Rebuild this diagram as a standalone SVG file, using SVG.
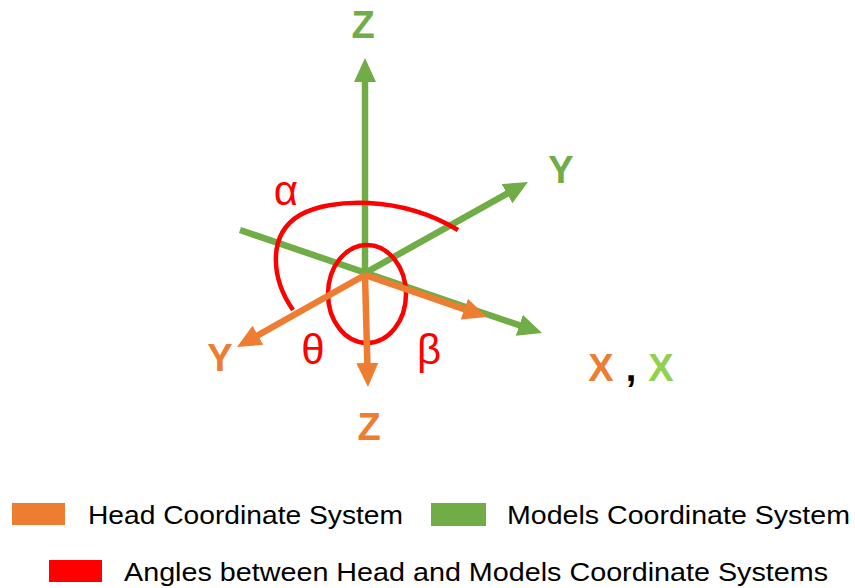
<svg xmlns="http://www.w3.org/2000/svg" width="855" height="588" viewBox="0 0 855 588">
  <style>
    .g { stroke: #70AD47; stroke-width: 6.5; fill: none; }
    .o { stroke: #ED7D31; stroke-width: 6.5; fill: none; }
    .r { stroke: #FF0000; stroke-width: 4.5; fill: none; }
    .axl { font-family: "Liberation Sans", Arial, sans-serif; font-weight: bold; font-size: 38px; text-anchor: middle; }
    .gr { font-family: "Liberation Sans", Arial, sans-serif; font-size: 42px; fill: #FF0000; text-anchor: middle; }
    .leg { font-family: "Liberation Sans", Arial, sans-serif; font-size: 26px; fill: #000000; }
  </style>
  <defs>
    <marker id="ag" markerUnits="userSpaceOnUse" markerWidth="26" markerHeight="24" refX="6" refY="11" orient="auto">
      <path d="M0,0 L24,11 L0,22 z" fill="#70AD47"/>
    </marker>
    <marker id="ao" markerUnits="userSpaceOnUse" markerWidth="26" markerHeight="24" refX="6" refY="11" orient="auto">
      <path d="M0,0 L24,11 L0,22 z" fill="#ED7D31"/>
    </marker>
  </defs>

  <g id="connectors">
    <g id="models-axes">
      <line class="g" x1="365" y1="273" x2="365" y2="76" marker-end="url(#ag)"/>
      <line class="g" x1="240" y1="230" x2="525" y2="327.2" marker-end="url(#ag)"/>
      <line class="g" x1="365" y1="273" x2="512.3" y2="190.8" marker-end="url(#ag)"/>
    </g>
    <g id="angles">
      <ellipse class="r" cx="367" cy="294" rx="39" ry="49"/>
      <path class="r" d="M293,310 C272,280 266,235 300,215 C330,198 400,195 458,230"/>
    </g>
    <g id="head-axes">
      <line class="o" x1="365" y1="275" x2="252.7" y2="338.2" marker-end="url(#ao)"/>
      <line class="o" x1="365" y1="275" x2="367.5" y2="369" marker-end="url(#ao)"/>
      <line class="o" x1="365" y1="275" x2="470" y2="311.1" marker-end="url(#ao)"/>
    </g>
  </g>

  <g id="model-z-label"><text class="axl" x="363" y="38" fill="#70AD47">Z</text></g>
  <g id="model-y-label"><text class="axl" x="561" y="183" fill="#70AD47">Y</text></g>
  <g id="head-y-label"><text class="axl" x="220" y="371" fill="#ED7D31">Y</text></g>
  <g id="head-z-label"><text class="axl" x="369" y="440" fill="#ED7D31">Z</text></g>
  <g id="x-labels">
    <text class="axl" x="601" y="381" fill="#ED7D31">X</text>
    <text class="axl" x="631" y="381" fill="#000000">,</text>
    <text class="axl" x="661" y="381" fill="#92D050">X</text>
  </g>

  <g id="alpha"><text class="gr" x="286" y="205">α</text></g>
  <g id="theta"><text class="gr" x="313" y="364">θ</text></g>
  <g id="beta"><text class="gr" x="429" y="364">β</text></g>

  <g id="legend-head">
    <rect x="12" y="503" width="53" height="22" fill="#ED7D31"/>
    <text class="leg" x="88" y="524" textLength="315" lengthAdjust="spacingAndGlyphs">Head Coordinate System</text>
  </g>
  <g id="legend-models">
    <rect x="431" y="503" width="55" height="23" fill="#70AD47"/>
    <text class="leg" x="507" y="524" textLength="343" lengthAdjust="spacingAndGlyphs">Models Coordinate System</text>
  </g>
  <g id="legend-angles">
    <rect x="49" y="560" width="53" height="22" fill="#FF0000"/>
    <text class="leg" x="124" y="581" textLength="704" lengthAdjust="spacingAndGlyphs">Angles between Head and Models Coordinate Systems</text>
  </g>
</svg>
